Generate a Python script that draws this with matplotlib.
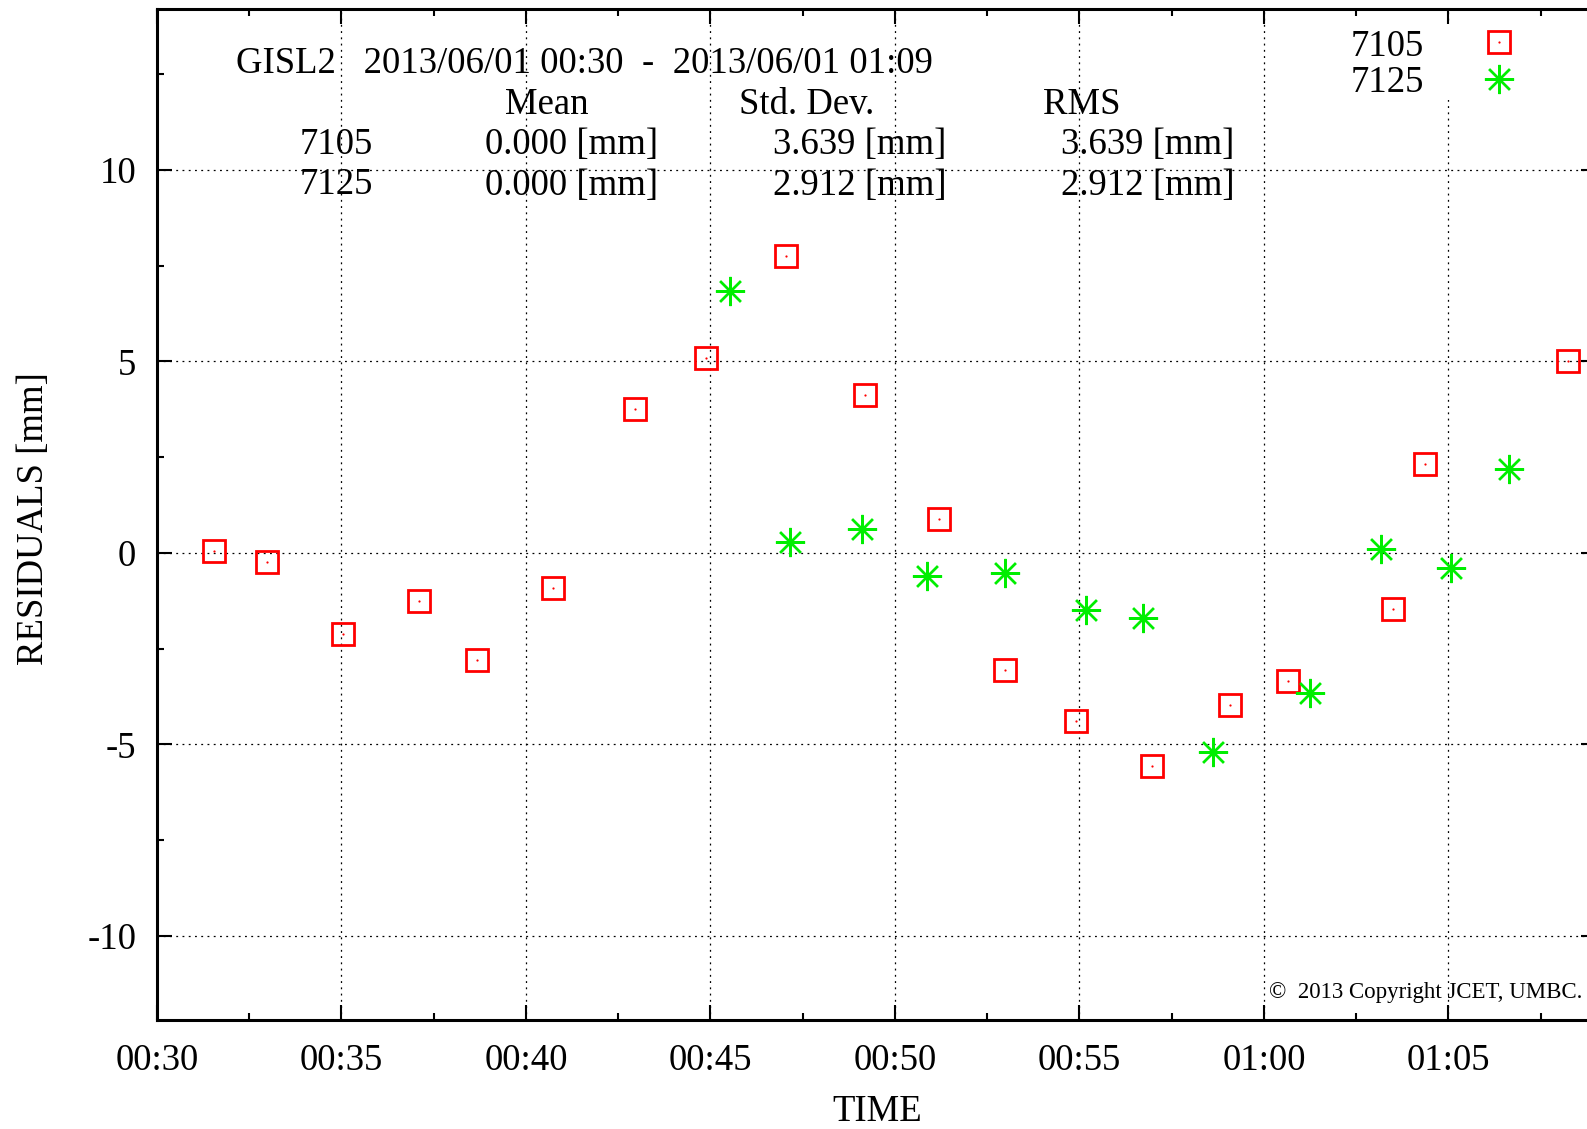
import matplotlib
matplotlib.use('Agg')
import matplotlib.pyplot as plt
from matplotlib.ticker import MultipleLocator, FixedLocator, FixedFormatter
from matplotlib.lines import Line2D
from matplotlib.patches import Rectangle

plt.rcParams['font.family'] = ['Liberation Serif', 'DejaVu Serif']

# ---- data (time in minutes after 00:00, residuals in mm) ----
t7105 = [31.55, 32.99, 35.04, 37.10, 38.68, 40.73, 42.96, 44.87, 47.04, 49.20,
         51.19, 52.97, 54.90, 56.98, 59.07, 60.64, 63.50, 64.37, 68.24]
r7105 = [0.05, -0.24, -2.11, -1.27, -2.79, -0.92, 3.75, 5.08, 7.74, 4.13,
         0.87, -3.06, -4.39, -5.58, -3.98, -3.34, -1.48, 2.32, 5.02]
t7125 = [45.54, 47.16, 49.10, 50.86, 52.97, 55.18, 56.71, 58.62, 61.25, 63.18,
         65.08, 66.63]
r7125 = [6.84, 0.29, 0.63, -0.61, -0.54, -1.49, -1.71, -5.20, -3.65, 0.09,
         -0.40, 2.18]

xtick_pos = [30, 35, 40, 45, 50, 55, 60, 65]
xtick_lab = ['00:30', '00:35', '00:40', '00:45', '00:50', '00:55', '01:00', '01:05']
ytick_pos = [-10, -5, 0, 5, 10]
ytick_lab = ['-10', '-5', '0', '5', '10']

stations = ['7105', '7125']
means = ['0.000 [mm]', '0.000 [mm]']
stds = ['3.639 [mm]', '2.912 [mm]']
rmss = ['3.639 [mm]', '2.912 [mm]']
title = 'GISL2   2013/06/01 00:30  -  2013/06/01 01:09'

RED = '#ff0000'
GREEN = '#00ee00'
FS = 26.5
SQ_MS = 15.3
STAR_MS = 21
STAR_MEW = 1.7

W, H = 1587, 1129
fig = plt.figure(figsize=(W / 100, H / 100), dpi=100)

def px(x, y):
    return (x / W, 1 - y / H)

L, R, T, B = 157, 1596, 9, 1020
ax = fig.add_axes([L / W, (H - B) / H, (R - L) / W, (B - T) / H])
ax.set_xlim(30, 69)
ax.set_ylim(-12.2, 14.2)

ax.xaxis.set_major_locator(FixedLocator(xtick_pos))
ax.xaxis.set_major_formatter(FixedFormatter(xtick_lab))
ax.xaxis.set_minor_locator(MultipleLocator(2.5))
ax.yaxis.set_major_locator(FixedLocator(ytick_pos))
ax.yaxis.set_major_formatter(FixedFormatter(ytick_lab))
ax.yaxis.set_minor_locator(MultipleLocator(2.5))

ax.tick_params(which='both', direction='in', top=True, right=True,
               labelsize=FS, width=1.5, color='black')
ax.tick_params(which='major', length=11)
ax.tick_params(which='minor', length=5)
ax.tick_params(axis='x', which='major', pad=17)
ax.tick_params(axis='y', which='major', pad=15)
for s in ax.spines.values():
    s.set_linewidth(2.2)

ax.grid(True, which='major', color='black', linewidth=0.9,
        linestyle=(0, (1.5, 3.5)))

# data
ax.plot(t7105, r7105, ls='none', marker='s', ms=SQ_MS, mfc='none', mec=RED,
        mew=2.0, zorder=3)
ax.plot(t7105, r7105, ls='none', marker='o', ms=1.6, mfc=RED, mec=RED,
        mew=0, zorder=3)
ax.plot(t7125, r7125, ls='none', marker=(8, 2, 0), ms=STAR_MS, mec=GREEN,
        mew=STAR_MEW, zorder=3)

# axis labels
ax.set_xlabel('TIME', fontsize=FS)
ax.xaxis.label.set_va('baseline')
ax.xaxis.set_label_coords((877 - L) / (R - L), (B - 1121) / (B - T))
ax.set_ylabel('RESIDUALS [mm]', fontsize=FS)
ax.yaxis.label.set_va('baseline')
ax.yaxis.set_label_coords((43 - L) / (R - L), (B - 519) / (B - T))

# header text
fig.text(*px(236, 73), title, fontsize=FS, va='baseline', ha='left')
fig.text(*px(505, 113.5), 'Mean', fontsize=FS, va='baseline', ha='left')
fig.text(*px(739, 113.5), 'Std. Dev.', fontsize=FS, va='baseline', ha='left')
fig.text(*px(1043, 113.5), 'RMS', fontsize=FS, va='baseline', ha='left')
for i, yb in enumerate([154, 194.5]):
    fig.text(*px(300, yb), stations[i], fontsize=FS, va='baseline', ha='left')
    fig.text(*px(485, yb), means[i], fontsize=FS, va='baseline', ha='left')
    fig.text(*px(773, yb), stds[i], fontsize=FS, va='baseline', ha='left')
    fig.text(*px(1061, yb), rmss[i], fontsize=FS, va='baseline', ha='left')

# legend (white box, labels, keys)
fig.add_artist(Rectangle(px(1325, 100), (W - 1325) / W, 76 / H,
                         transform=fig.transFigure, facecolor='white',
                         edgecolor='none', zorder=1))
fig.text(*px(1424, 55.5), stations[0], fontsize=FS, va='baseline', ha='right')
fig.text(*px(1424, 92), stations[1], fontsize=FS, va='baseline', ha='right')
kx, ky1 = px(1499, 42.3)
_, ky2 = px(1499, 79)
fig.add_artist(Line2D([kx], [ky1], transform=fig.transFigure, ls='none',
                      marker='s', ms=SQ_MS, mfc='none', mec=RED, mew=2.0, zorder=2))
fig.add_artist(Line2D([kx], [ky1], transform=fig.transFigure, ls='none',
                      marker='o', ms=1.6, mfc=RED, mew=0, zorder=2))
fig.add_artist(Line2D([kx], [ky2], transform=fig.transFigure, ls='none',
                      marker=(8, 2, 0), ms=STAR_MS, mec=GREEN, mew=STAR_MEW,
                      zorder=2))

# copyright
fig.text(*px(1582, 998), '\u00a9  2013 Copyright JCET, UMBC.', fontsize=16.5,
         va='baseline', ha='right')

fig.savefig('out.png', dpi=100)
